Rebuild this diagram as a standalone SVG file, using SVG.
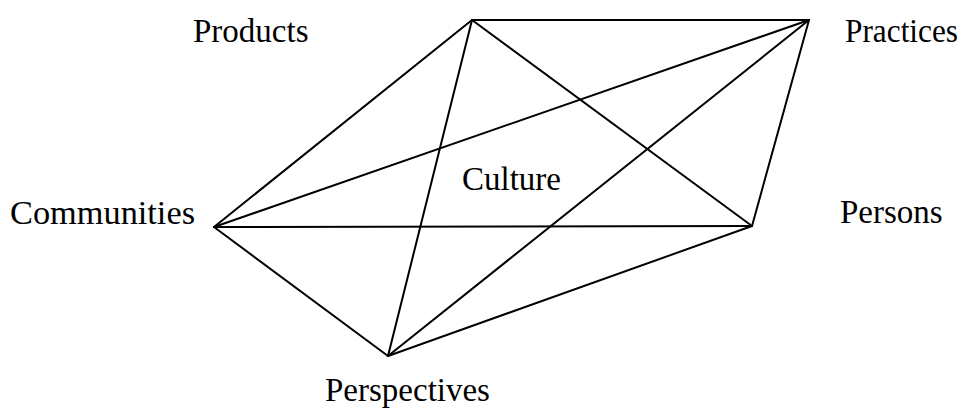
<svg xmlns="http://www.w3.org/2000/svg" width="970" height="408" viewBox="0 0 970 408">
<style>
.lbl{font-family:"Liberation Serif","Times New Roman",serif;font-size:33px;fill:#000}
.e{stroke:#000;stroke-width:2;fill:none;stroke-linecap:round}
</style>
<rect width="970" height="408" fill="#fff"/>
<g id="connectors">
<line class="e" x1="472" y1="20" x2="809" y2="20"/>
<line class="e" x1="472" y1="20" x2="214" y2="227"/>
<line class="e" x1="472" y1="20" x2="388" y2="356"/>
<line class="e" x1="472" y1="20" x2="752" y2="226"/>
<line class="e" x1="809" y1="20" x2="214" y2="227"/>
<line class="e" x1="809" y1="20" x2="388" y2="356"/>
<line class="e" x1="809" y1="20" x2="752" y2="226"/>
<line class="e" x1="214" y1="227" x2="752" y2="226"/>
<line class="e" x1="214" y1="227" x2="388" y2="356"/>
<line class="e" x1="388" y1="356" x2="752" y2="226"/>
</g>
<g id="products"><text class="lbl" x="193" y="42">Products</text></g>
<g id="practices"><text class="lbl" x="845" y="42" textLength="113" lengthAdjust="spacingAndGlyphs">Practices</text></g>
<g id="communities"><text class="lbl" x="10" y="224" textLength="185" lengthAdjust="spacingAndGlyphs">Communities</text></g>
<g id="persons"><text class="lbl" x="840" y="223">Persons</text></g>
<g id="perspectives"><text class="lbl" x="325" y="401">Perspectives</text></g>
<g id="culture"><text class="lbl" x="462" y="190">Culture</text></g>
</svg>
